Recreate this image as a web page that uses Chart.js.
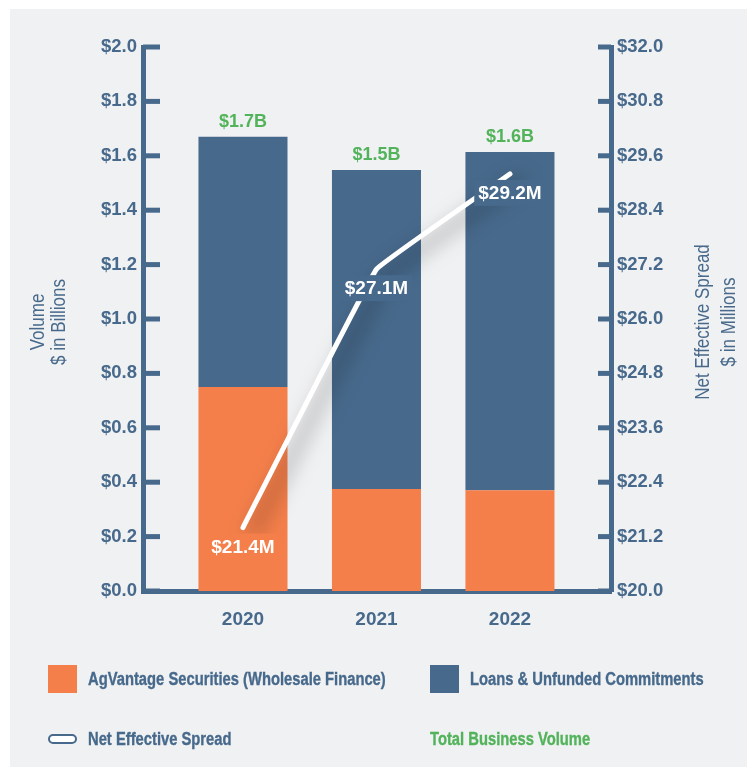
<!DOCTYPE html>
<html>
<head>
<meta charset="utf-8">
<script src="https://cdn.jsdelivr.net/npm/chart.js@4/dist/chart.umd.min.js"></script>
<style>
  html, body { margin: 0; padding: 0; background: #ffffff; }
  #wrap { position: relative; width: 747px; height: 767px; overflow: hidden; }
  #panel { position: absolute; left: 10px; top: 9px; right: 0; bottom: 0; background: #f0f1f3; }
  #chart { position: absolute; left: 0; top: 0; }
  #legend {
    position: absolute; left: 48px; top: 664px;
    display: grid; grid-template-columns: 382px auto; grid-auto-rows: 60px;
    font-family: "Liberation Sans", Arial, sans-serif;
    font-weight: bold; font-size: 18px; color: #47698b;
  }
  .item { display: flex; align-items: center; height: 30px; white-space: nowrap; }
  .item .txt { display: inline-block; transform: scaleX(0.82); transform-origin: left center; -webkit-text-stroke: 0.35px currentColor; }
  .swatch { width: 29px; height: 28px; margin-right: 11px; flex: none; }
  .pill { width: 25px; height: 6px; border: 2.5px solid #47698b; border-radius: 6px; background: #fff; margin-right: 11px; flex: none; }
</style>
</head>
<body>
<div id="wrap">
  <div id="panel"></div>
  <canvas id="chart" width="747" height="767"></canvas>
  <div id="legend"></div>
</div>
<script>
// Business volume by year ($ billions) and net effective spread ($ millions)
const categories = ['2020', '2021', '2022'];
const agVantage = [0.75, 0.375, 0.37];
const loansCommitments = [0.92, 1.173, 1.244];
const netEffectiveSpread = [21.4, 27.1, 29.2];
const volumeTicks = [0, 0.2, 0.4, 0.6, 0.8, 1.0, 1.2, 1.4, 1.6, 1.8, 2.0];
const spreadTicks = [20.0, 21.2, 22.4, 23.6, 24.8, 26.0, 27.2, 28.4, 29.6, 30.8, 32.0];
const seriesNames = ['AgVantage Securities (Wholesale Finance)', 'Loans & Unfunded Commitments', 'Net Effective Spread'];
const totalLabel = 'Total Business Volume';
const volumeTitle = ['Volume', '$ in Billions'];
const spreadTitle = ['Net Effective Spread', '$ in Millions'];

const BLUE = '#47698b';
const ORANGE = '#f47f4b';
const GREEN = '#52b35a';
const PANEL = '#f0f1f3';
const SANS = '"Liberation Sans", Arial, sans-serif';

const totals = agVantage.map((v, i) => v + loansCommitments[i]);
const pts = arr => arr.map((v, i) => ({ x: i, y: v }));

// soft drop shadow under the spread line
const lineShadow = {
  id: 'lineShadow',
  beforeDatasetDraw(chart, args) {
    if (args.meta.type !== 'line') return;
    const ctx = chart.ctx;
    ctx.save();
    ctx.shadowColor = 'rgba(0,0,0,0.55)';
    ctx.shadowBlur = 20;
    ctx.shadowOffsetX = 10;
    ctx.shadowOffsetY = 6;
  },
  afterDatasetDraw(chart, args) {
    if (args.meta.type !== 'line') return;
    chart.ctx.restore();
  }
};

// tick marks pointing into the plot from both value axes
const innerTicks = {
  id: 'innerTicks',
  afterDraw(chart) {
    const { ctx, chartArea: ca, scales } = chart;
    ctx.save();
    ctx.strokeStyle = BLUE;
    ctx.lineWidth = 5;
    ctx.lineCap = 'butt';
    scales.y.ticks.forEach(t => {
      const py = scales.y.getPixelForValue(t.value);
      ctx.beginPath(); ctx.moveTo(ca.left, py); ctx.lineTo(ca.left + 17, py); ctx.stroke();
    });
    scales.y1.ticks.forEach(t => {
      const py = scales.y1.getPixelForValue(t.value);
      ctx.beginPath(); ctx.moveTo(ca.right - 13, py); ctx.lineTo(ca.right, py); ctx.stroke();
    });
    ctx.restore();
  }
};

// totals above the stacks and spread values under the line points
const valueLabels = {
  id: 'valueLabels',
  afterDatasetsDraw(chart) {
    const { ctx, scales } = chart;
    ctx.save();
    ctx.font = 'bold 18px ' + SANS;
    ctx.textAlign = 'center';
    ctx.textBaseline = 'alphabetic';
    ctx.fillStyle = GREEN;
    totals.forEach((t, i) => {
      const px = scales.x.getPixelForValue(i);
      const py = scales.y.getPixelForValue(t);
      ctx.fillText('$' + t.toFixed(1) + 'B', px, py - 10);
    });

    const line = chart.getDatasetMeta(2);
    ctx.font = 'bold 19px ' + SANS;
    ctx.textBaseline = 'middle';
    line.data.forEach((pt, i) => {
      const text = '$' + netEffectiveSpread[i].toFixed(1) + 'M';
      const cx = pt.x;
      const cy = pt.y + 19;
      const w = ctx.measureText(text).width + 8;
      const h = 26;
      const under = scales.y.getValueForPixel(cy);
      ctx.fillStyle = under < agVantage[i] ? ORANGE : (under < totals[i] ? BLUE : PANEL);
      ctx.fillRect(cx - w / 2, cy - h / 2, w, h);
      ctx.fillStyle = '#ffffff';
      ctx.fillText(text, cx, cy + 1);
    });
    ctx.restore();
  }
};

// rotated titles beside both value axes (narrowed horizontally)
const axisTitles = {
  id: 'axisTitles',
  afterDraw(chart) {
    const { ctx, chartArea: ca } = chart;
    const midY = (ca.top + ca.bottom) / 2 + 3;
    ctx.save();
    ctx.fillStyle = BLUE;
    ctx.font = '20px ' + SANS;
    ctx.textAlign = 'center';
    ctx.textBaseline = 'middle';
    const draw = (lines, x0, gap) => {
      lines.forEach((s, k) => {
        ctx.save();
        ctx.translate(x0 + k * gap, midY);
        ctx.rotate(-Math.PI / 2);
        ctx.scale(0.85, 1);
        ctx.fillText(s, 0, 0);
        ctx.restore();
      });
    };
    draw(volumeTitle, ca.left - 105, 21);
    draw(spreadTitle, ca.right + 92, 26);
    ctx.restore();
  }
};

const tickFont = { family: SANS, weight: 'bold', size: 18.5 };

const chart = new Chart(document.getElementById('chart'), {
  data: {
    datasets: [
      {
        type: 'bar', label: seriesNames[0], data: pts(agVantage),
        backgroundColor: ORANGE, yAxisID: 'y', order: 1,
        categoryPercentage: 1, barPercentage: 0.667
      },
      {
        type: 'bar', label: seriesNames[1], data: pts(loansCommitments),
        backgroundColor: BLUE, yAxisID: 'y', order: 1,
        categoryPercentage: 1, barPercentage: 0.667
      },
      {
        type: 'line', label: seriesNames[2], data: pts(netEffectiveSpread),
        borderColor: '#ffffff', borderWidth: 5, borderCapStyle: 'round', borderJoinStyle: 'round',
        tension: 0.05, pointRadius: 0, fill: false, yAxisID: 'y1', order: 0
      }
    ]
  },
  options: {
    responsive: false,
    animation: false,
    layout: { padding: { top: 47, left: 0, right: 0, bottom: 0 } },
    plugins: { legend: { display: false }, tooltip: { enabled: false } },
    scales: {
      x: {
        type: 'linear', min: -0.749, max: 2.757, stacked: true, offset: false,
        afterBuildTicks: s => { s.ticks = categories.map((_, i) => ({ value: i })); },
        afterFit: s => { s.height = 176; },
        grid: { display: false, drawTicks: false },
        border: { display: true, color: BLUE, width: 5 },
        ticks: {
          callback: v => categories[v] ?? '',
          color: BLUE, padding: 17, maxRotation: 0, autoSkip: false,
          font: { family: SANS, weight: 'bold', size: 19 }
        }
      },
      y: {
        position: 'left', min: 0, max: 2, stacked: true,
        afterBuildTicks: s => { s.ticks = volumeTicks.map(v => ({ value: v })); },
        afterFit: s => { s.width = 143; },
        grid: { display: false, drawTicks: false },
        border: { display: true, color: BLUE, width: 5 },
        ticks: { callback: v => '$' + v.toFixed(1), color: BLUE, padding: 6, font: tickFont }
      },
      y1: {
        position: 'right', min: 20, max: 32,
        afterBuildTicks: s => { s.ticks = spreadTicks.map(v => ({ value: v })); },
        afterFit: s => { s.width = 136; },
        grid: { display: false, drawTicks: false },
        border: { display: true, color: BLUE, width: 5 },
        ticks: { callback: v => '$' + v.toFixed(1), color: BLUE, padding: 6, font: tickFont }
      }
    }
  },
  plugins: [lineShadow, valueLabels, innerTicks, axisTitles]
});

// legend built from the chart's datasets, plus the totals key
const legend = document.getElementById('legend');
const addItem = (markClass, markColor, text, textColor) => {
  const item = document.createElement('div');
  item.className = 'item';
  if (markClass) {
    const mark = document.createElement('span');
    mark.className = markClass;
    if (markColor) mark.style.background = markColor;
    item.appendChild(mark);
  }
  const t = document.createElement('span');
  t.className = 'txt';
  t.textContent = text;
  if (textColor) t.style.color = textColor;
  item.appendChild(t);
  legend.appendChild(item);
};
chart.data.datasets.forEach(ds => {
  if (ds.type === 'bar') addItem('swatch', ds.backgroundColor, ds.label);
  else addItem('pill', null, ds.label);
});
addItem(null, null, totalLabel, GREEN);
</script>
</body>
</html>
